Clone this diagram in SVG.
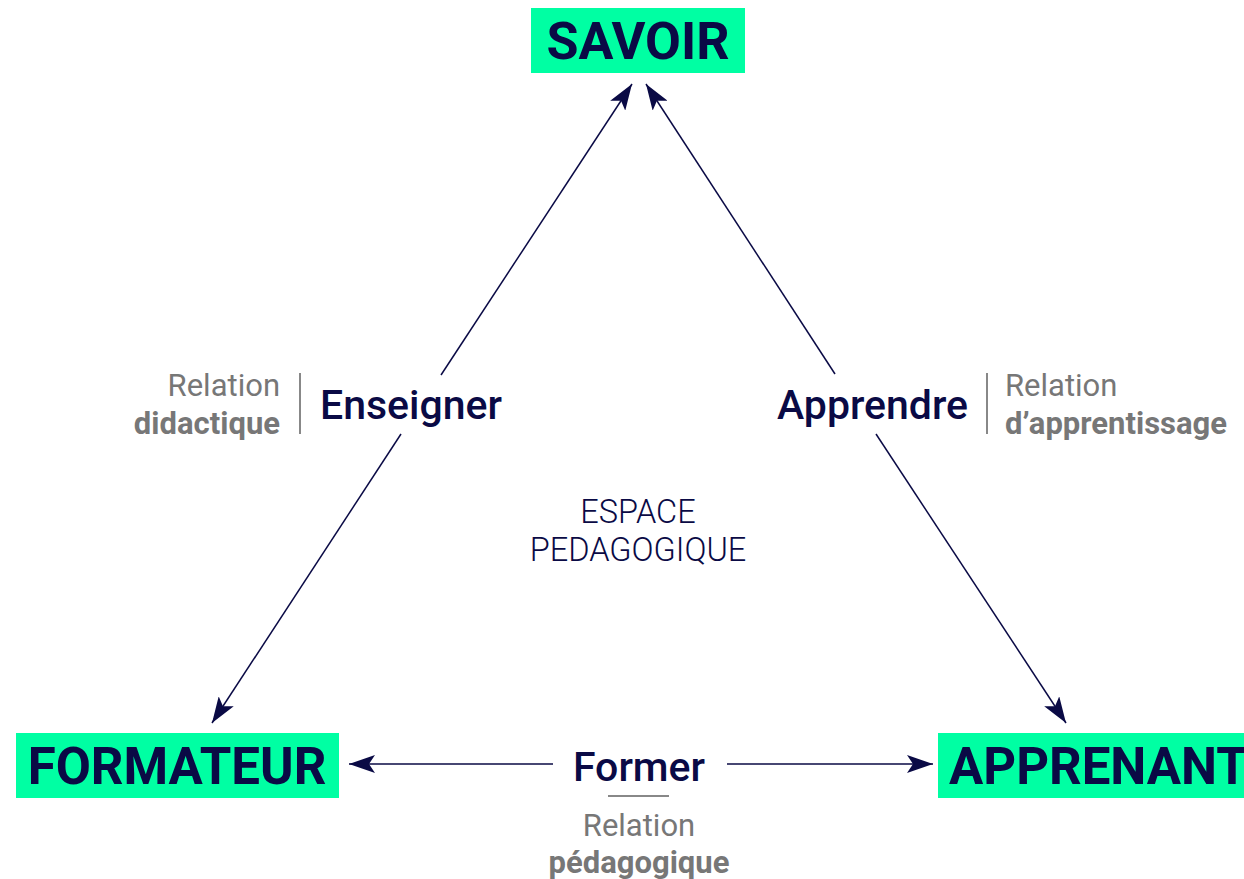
<svg xmlns="http://www.w3.org/2000/svg" width="1244" height="879" viewBox="0 0 1244 879">
<defs>
<marker id="ah" viewBox="0 0 26 18" refX="26" refY="9" markerWidth="26" markerHeight="18" markerUnits="userSpaceOnUse" orient="auto">
<path d="M0,0 L26,9 L0,18 L6,9 Z" fill="#0a0a45"/>
</marker>
<style>
.box{fill:#00ffa3}
.node{font-family:Roboto,"Liberation Sans",sans-serif;font-weight:700;fill:#0a0a45}
.verb{font-family:Roboto,"Liberation Sans",sans-serif;font-weight:500;font-size:41px;fill:#0a0a45}
.rel{font-family:Roboto,"Liberation Sans",sans-serif;font-weight:400;font-size:31px;fill:#777777}
.relb{font-family:Roboto,"Liberation Sans",sans-serif;font-weight:700;font-size:31px;fill:#777777}
.esp{font-family:Roboto,"Liberation Sans",sans-serif;font-weight:300;font-size:32.5px;fill:#0a0a45}
.conn{stroke:#0a0a45;stroke-width:1.5;fill:none}
.sep{stroke:#888888;stroke-width:2;fill:none}
</style>
</defs>
<rect width="1244" height="879" fill="#ffffff"/>
<g id="connectors">
<line class="conn" x1="441" y1="375" x2="632" y2="84" marker-end="url(#ah)"/>
<line class="conn" x1="401" y1="434" x2="212" y2="723" marker-end="url(#ah)"/>
<line class="conn" x1="835" y1="374" x2="646" y2="84" marker-end="url(#ah)"/>
<line class="conn" x1="876" y1="434" x2="1066" y2="723" marker-end="url(#ah)"/>
<line class="conn" x1="553" y1="764" x2="349" y2="764" marker-end="url(#ah)"/>
<line class="conn" x1="727" y1="764" x2="933" y2="764" marker-end="url(#ah)"/>
</g>
<g id="savoir">
<rect class="box" x="531" y="8" width="214" height="65"/>
<text class="node" x="638" y="59" font-size="52" text-anchor="middle">SAVOIR</text>
</g>
<g id="formateur">
<rect class="box" x="16" y="733" width="323" height="65"/>
<text class="node" x="177" y="784" font-size="51" text-anchor="middle">FORMATEUR</text>
</g>
<g id="apprenant">
<rect class="box" x="938" y="733" width="310" height="65"/>
<text class="node" x="949" y="784" font-size="51">APPRENANT</text>
</g>
<g id="enseigner">
<text class="rel" x="280" y="396" text-anchor="end">Relation</text>
<text class="relb" x="280" y="434" text-anchor="end">didactique</text>
<line class="sep" x1="300" y1="373" x2="300" y2="434"/>
<text class="verb" x="320" y="419">Enseigner</text>
</g>
<g id="apprendre">
<text class="verb" x="968" y="419" text-anchor="end">Apprendre</text>
<line class="sep" x1="987" y1="373" x2="987" y2="434"/>
<text class="rel" x="1005" y="396">Relation</text>
<text class="relb" x="1005" y="434">d’apprentissage</text>
</g>
<g id="former">
<text class="verb" x="639" y="781" text-anchor="middle">Former</text>
<line class="sep" x1="608" y1="796" x2="669" y2="796"/>
<text class="rel" x="639" y="836" text-anchor="middle">Relation</text>
<text class="relb" x="639" y="873" text-anchor="middle">pédagogique</text>
</g>
<g id="espace">
<text class="esp" x="638" y="523" text-anchor="middle">ESPACE</text>
<text class="esp" x="638" y="561" text-anchor="middle">PEDAGOGIQUE</text>
</g>
</svg>
